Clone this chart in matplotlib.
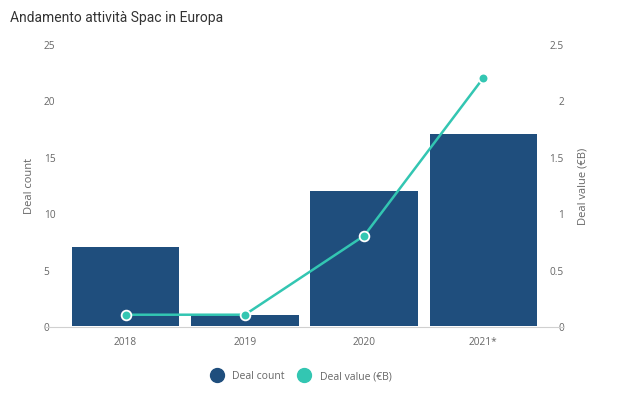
import matplotlib
matplotlib.use("Agg")
import matplotlib.pyplot as plt
from matplotlib.lines import Line2D
import numpy as np

years = ["2018", "2019", "2020", "2021*"]
deal_count = [7, 1, 12, 17]
deal_value = [0.1, 0.1, 0.8, 2.2]

bar_color = "#1f4e7d"
line_color = "#33c6b2"
text_color = "#666666"

plt.rcParams["font.family"] = ["Open Sans", "DejaVu Sans"]

fig = plt.figure(figsize=(6.24, 4.02), dpi=100)
W, H = 624, 402
ax = fig.add_axes([66 / W, 1 - 327 / H, (543 - 66) / W, (327 - 45) / H])
ax2 = ax.twinx()

x = np.arange(len(years))
ax.bar(x, deal_count, width=0.9, color=bar_color, zorder=2)
ax.set_xlim(-0.5, 3.5)
ax.set_ylim(0, 25)
ax.set_yticks([0, 5, 10, 15, 20, 25])
ax.set_xticks(x)
ax.set_xticklabels(years)
ax.set_ylabel("Deal count", fontsize=8, color=text_color, labelpad=6)

ax2.plot(x, deal_value, color=line_color, lw=1.8, marker="o", ms=7,
         markerfacecolor=line_color, markeredgecolor="white", markeredgewidth=1.3,
         zorder=3)
ax2.set_ylim(0, 2.5)
ax2.set_yticks([0, 0.5, 1, 1.5, 2, 2.5])
ax2.set_yticklabels(["0", "0.5", "1", "1.5", "2", "2.5"])
ax2.set_ylabel("Deal value (€B)", fontsize=8, color=text_color, labelpad=10)

for a in (ax, ax2):
    for s in a.spines.values():
        s.set_visible(False)
    a.tick_params(length=0, labelsize=7.3, colors=text_color)
    a.set_facecolor("none")

ax.tick_params(axis="y", pad=16)
for lbl in ax.get_yticklabels():
    lbl.set_ha("left")
ax2.tick_params(axis="y", pad=15)
for lbl in ax2.get_yticklabels():
    lbl.set_ha("right")
ax.tick_params(axis="x", pad=7)

# baseline spanning under the tick labels
fig.add_artist(Line2D([45 / W, 563 / W], [1 - 327.5 / H, 1 - 327.5 / H],
                      color="#d0d0d0", lw=0.8))

fig.text(10 / W, 1 - 18 / H, "Andamento attività Spac in Europa",
         fontsize=10, color="#333333", va="center", ha="left",
         family=["Roboto", "DejaVu Sans"])

handles = [
    Line2D([], [], marker="o", ls="none", ms=10, color=bar_color, label="Deal count"),
    Line2D([], [], marker="o", ls="none", ms=10, color=line_color, label="Deal value (€B)"),
]
fig.legend(handles=handles, loc="center", bbox_to_anchor=(299 / W, 1 - 377 / H),
           ncol=2, frameon=False, fontsize=7.5, labelcolor=text_color,
           handletextpad=0.5, columnspacing=0.9)

fig.savefig("out.png", dpi=100)
